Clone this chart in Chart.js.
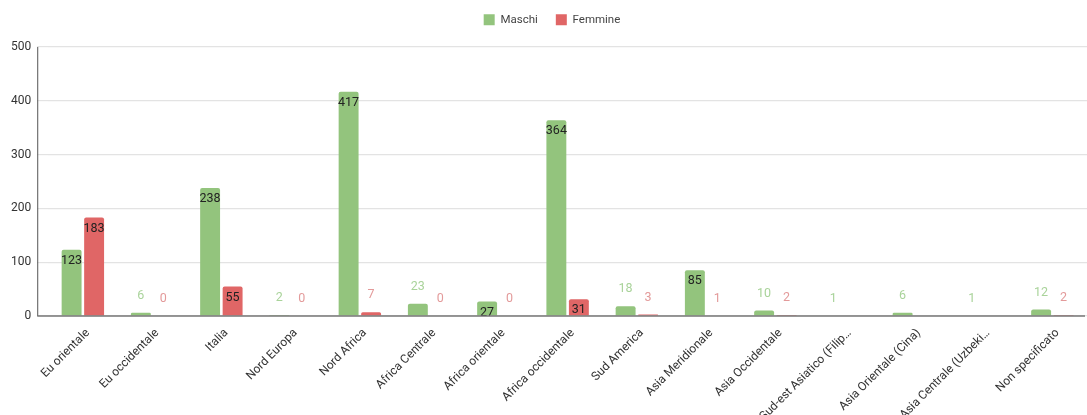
<!DOCTYPE html>
<html>
<head>
<meta charset="utf-8">
<script src="https://cdn.jsdelivr.net/npm/chart.js@4.4.1/dist/chart.umd.min.js"></script>
<style>
  body { margin: 0; background: #fff; }
  #wrap { width: 1087px; height: 415px; position: relative; }
</style>
</head>
<body>
<div id="wrap"><canvas id="chart"></canvas></div>
<script>
// Data
const categories = [
  'Eu orientale', 'Eu occidentale', 'Italia', 'Nord Europa', 'Nord Africa',
  'Africa Centrale', 'Africa orientale', 'Africa occidentale', 'Sud America',
  'Asia Meridionale', 'Asia Occidentale', 'Sud-est Asiatico (Filip…',
  'Asia Orientale (Cina)', 'Asia Centrale (Uzbeki…', 'Non specificato'
];
const maschi  = [123, 6, 238, 2, 417, 23, 27, 364, 18, 85, 10, 1, 6, 1, 12];
const femmine = [183, 0, 55, 0, 7, 0, 0, 31, 3, 1, 2, null, null, null, 2];
const yTicks = [0, 100, 200, 300, 400, 500];

const GREEN = '#93c47d';
const RED = '#e06666';
const FONT = 'Roboto, Arial, sans-serif';

// value labels: inside the bar when it is tall enough, above it otherwise
const valueLabels = {
  id: 'valueLabels',
  afterDatasetsDraw(chart) {
    const ctx = chart.ctx;
    ctx.save();
    ctx.font = '12.5px ' + FONT;
    ctx.textAlign = 'center';
    ctx.textBaseline = 'middle';
    chart.data.datasets.forEach((ds, di) => {
      const meta = chart.getDatasetMeta(di);
      meta.data.forEach((bar, i) => {
        const v = ds.data[i];
        if (v === null || v === undefined) return;
        const h = bar.base - bar.y;
        if (h > 13) {
          ctx.fillStyle = '#222';
          ctx.fillText(String(v), bar.x, bar.y + 11);
        } else {
          ctx.fillStyle = di === 0 ? '#a9d39a' : '#e39a9a';
          ctx.fillText(String(v), bar.x, bar.y - 17);
        }
      });
    });
    ctx.restore();
  }
};

// left axis line + bottom axis line like the original
const axisLines = {
  id: 'axisLines',
  afterDatasetsDraw(chart) {
    const { ctx, chartArea } = chart;
    const left = chartArea.left - 11;
    ctx.save();
    ctx.strokeStyle = '#555';
    ctx.lineWidth = 1;
    ctx.beginPath();
    ctx.moveTo(left + 0.5, chartArea.top);
    ctx.lineTo(left + 0.5, chartArea.bottom);
    ctx.stroke();
    ctx.strokeStyle = '#777';
    ctx.lineWidth = 1.5;
    ctx.beginPath();
    ctx.moveTo(left, chartArea.bottom);
    ctx.lineTo(chartArea.right - 2, chartArea.bottom);
    ctx.stroke();
    ctx.restore();
  }
};

// fixed legend height so the plot starts lower; legend nudged to match
const legendTweak = {
  id: 'legendTweak',
  beforeInit(chart) {
    const legend = chart.legend;
    const fit = legend.fit;
    legend.fit = function () {
      fit.call(this);
      this.height = 47;
    };
    const draw = legend.draw;
    legend.draw = function () {
      const ctx = this.ctx;
      ctx.save();
      ctx.translate(6, -4);
      draw.call(this);
      ctx.restore();
    };
  }
};

new Chart(document.getElementById('chart'), {
  type: 'bar',
  data: {
    labels: categories,
    datasets: [
      {
        label: 'Maschi',
        data: maschi,
        backgroundColor: GREEN,
        borderRadius: { topLeft: 2, topRight: 2 },
        borderSkipped: 'bottom',
        categoryPercentage: 0.65,
        barPercentage: 0.885
      },
      {
        label: 'Femmine',
        data: femmine,
        backgroundColor: RED,
        borderRadius: { topLeft: 2, topRight: 2 },
        borderSkipped: 'bottom',
        categoryPercentage: 0.65,
        barPercentage: 0.885
      }
    ]
  },
  options: {
    responsive: true,
    maintainAspectRatio: false,
    animation: false,
    layout: { padding: { left: 5, right: 0, top: 0, bottom: 0 } },
    plugins: {
      legend: {
        position: 'top',
        labels: {
          boxWidth: 11,
          boxHeight: 11,
          padding: 18,
          color: '#444',
          font: { family: FONT, size: 11.5 }
        }
      },
      tooltip: { enabled: false }
    },
    scales: {
      x: {
        grid: { display: false, drawTicks: false },
        border: { display: false },
        ticks: {
          color: '#333',
          font: { family: FONT, size: 12 },
          maxRotation: 45,
          minRotation: 45,
          autoSkip: false,
          padding: 10,
          labelOffset: 5
        },
        afterFit(scale) { scale.height = 99; }
      },
      y: {
        min: 0,
        max: 500,
        afterBuildTicks(scale) { scale.ticks = yTicks.map(v => ({ value: v })); },
        grid: { color: '#e3e3e3', tickLength: 11, lineWidth: 1.2 },
        border: { display: false },
        ticks: {
          color: '#333',
          font: { family: FONT, size: 12 },
          padding: 6
        }
      }
    }
  },
  plugins: [legendTweak, valueLabels, axisLines]
});
</script>
</body>
</html>
